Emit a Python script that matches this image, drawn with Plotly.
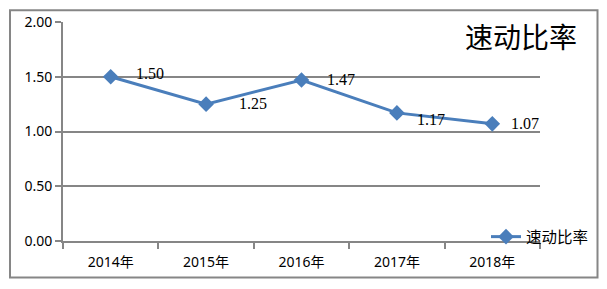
import plotly.graph_objects as go

categories = ["2014年", "2015年", "2016年", "2017年", "2018年"]
quick_ratio = [1.50, 1.25, 1.47, 1.17, 1.07]
value_labels = ["1.50", "1.25", "1.47", "1.17", "1.07"]
series_name = "速动比率"
chart_title = "速动比率"
y_ticks = [0, 0.5, 1.0, 1.5, 2.0]
y_tick_labels = ["0.00", "0.50", "1.00", "1.50", "2.00"]

# label offsets in pixels (styling)
label_dx = [23, 31, 23, 18, 17]
label_dy = [3, 1, 1, -7, 0]

W, H = 607, 289
L, R, T, B = 63, 540, 19, 241
GRAY = "#868686"
BLUE = "#4A7EBB"


def px_x(p):
    return (p - L) / (R - L)


def px_y(p):
    return (B - p) / (B - T)


fig = go.Figure()
fig.add_trace(go.Scatter(
    x=categories, y=quick_ratio, mode="lines+markers", name=series_name,
    line=dict(color=BLUE, width=3),
    marker=dict(symbol="diamond", size=12, color=BLUE),
))

annotations = []
for c, v, t, dx, dy in zip(categories, quick_ratio, value_labels, label_dx, label_dy):
    annotations.append(dict(
        x=c, y=v, text=t, showarrow=False, xanchor="left", yanchor="middle",
        xshift=dx, yshift=dy,
        font=dict(family="Liberation Serif", size=16, color="black"),
    ))
annotations.append(dict(
    x=px_x(521), y=px_y(33), xref="paper", yref="paper", text=chart_title,
    showarrow=False, xanchor="center", yanchor="middle",
    font=dict(family="Noto Sans CJK SC", size=28, color="black"),
))

fig.update_layout(
    width=W, height=H,
    margin=dict(l=L, r=W - R, t=T, b=H - B, pad=0),
    paper_bgcolor="white", plot_bgcolor="white",
    font=dict(family="Noto Sans, Noto Sans CJK SC", size=14, color="black"),
    showlegend=True,
    legend=dict(x=px_x(486), y=px_y(237), xanchor="left", yanchor="middle",
                bgcolor="rgba(0,0,0,0)", font=dict(family="Noto Sans CJK SC", size=15.5),
                itemwidth=30, tracegroupgap=0),
    annotations=annotations,
    shapes=[dict(type="rect", xref="paper", yref="paper",
                 x0=px_x(10), x1=px_x(597.5), y0=px_y(278), y1=px_y(7),
                 line=dict(color=GRAY, width=2), fillcolor="rgba(0,0,0,0)", layer="below")],
)
fig.update_xaxes(
    type="category", showgrid=False, showline=True, linecolor=GRAY, linewidth=2,
    ticks="outside", tickson="boundaries", ticklen=6, tickcolor=GRAY, tickwidth=2,
    tickfont=dict(family="Noto Sans, Noto Sans CJK SC", size=14),
    ticklabelstandoff=7,
    range=[-0.5, 4.5], zeroline=False,
)
fig.update_yaxes(
    range=[0, 2], tickvals=y_ticks, ticktext=y_tick_labels,
    showgrid=True, gridcolor=GRAY, gridwidth=2,
    showline=True, linecolor=GRAY, linewidth=2,
    ticks="outside", ticklen=6, tickcolor=GRAY, tickwidth=2,
    zeroline=False, tickfont=dict(family="Noto Sans", size=14),
)

fig.write_html("out.html")
